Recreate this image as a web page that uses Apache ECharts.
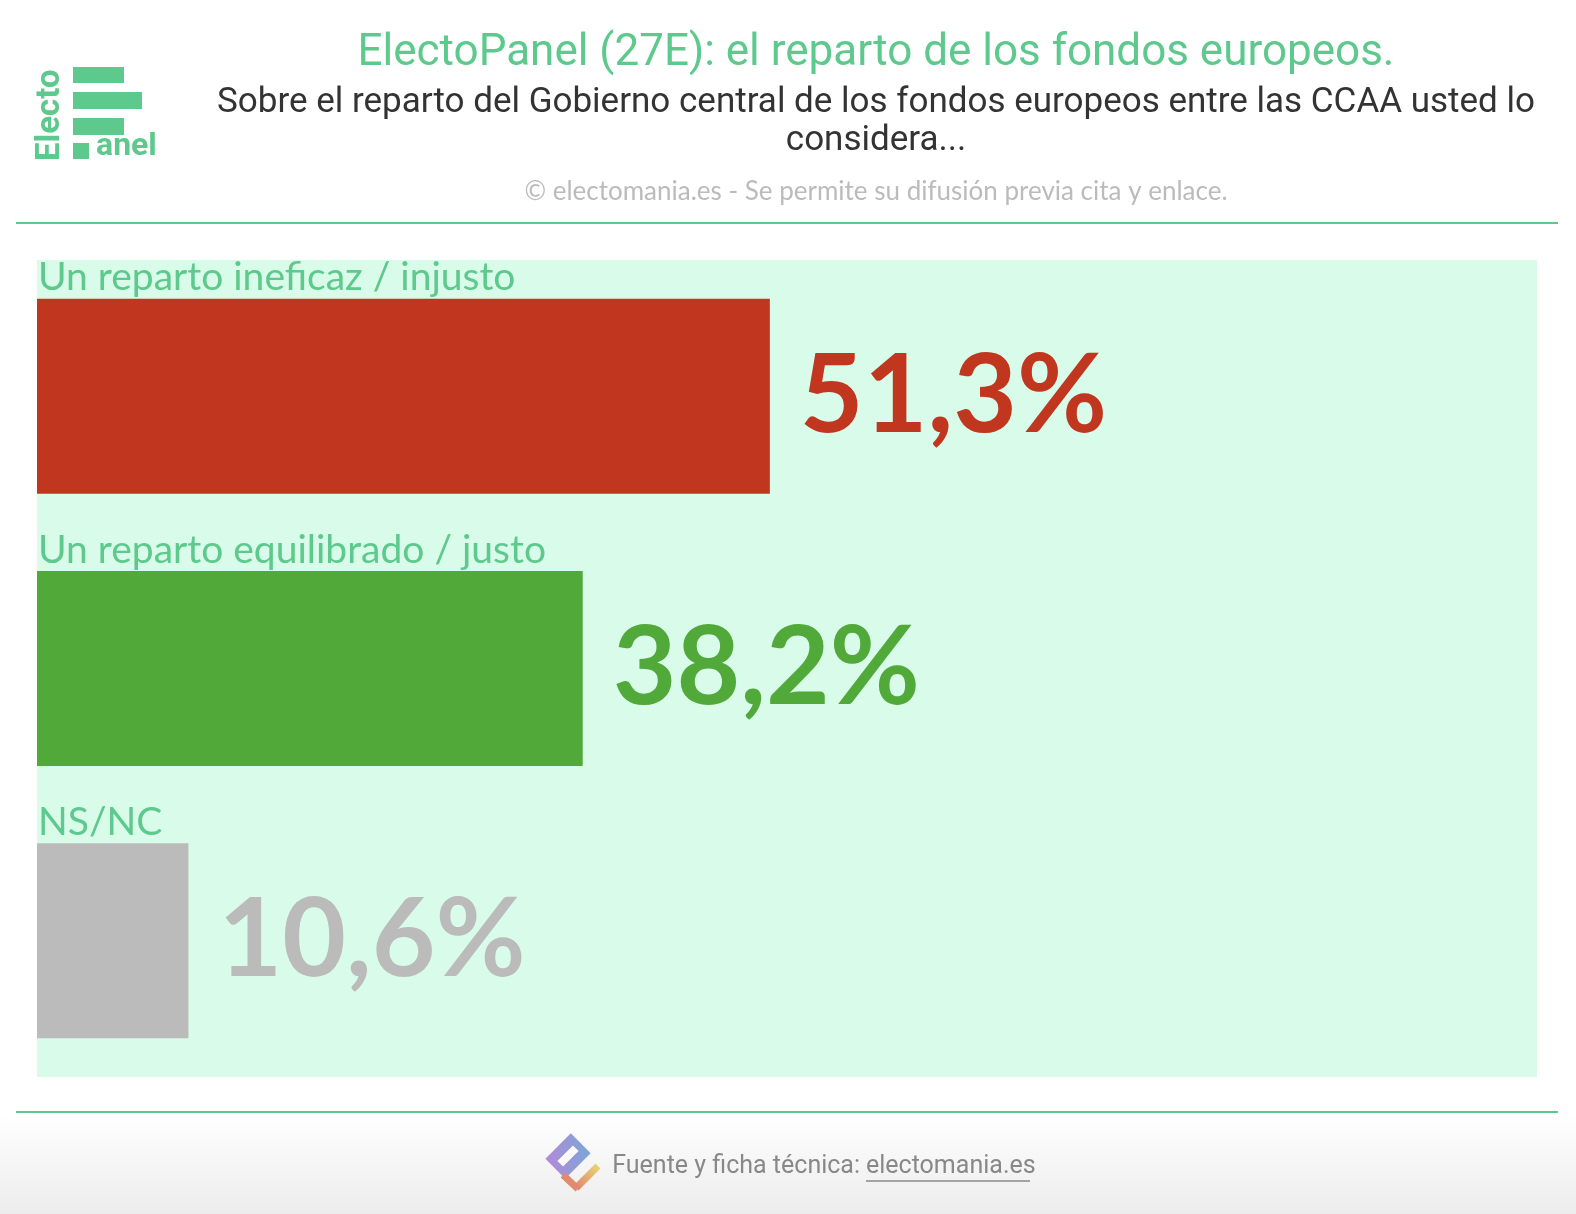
<!DOCTYPE html>
<html>
<head>
<meta charset="utf-8">
<script src="https://cdn.jsdelivr.net/npm/echarts@6/dist/echarts.min.js"></script>
<style>
html, body { margin: 0; padding: 0; background: #fff; }
#chart { width: 1576px; height: 1214px; }
</style>
</head>
<body>
<div id="chart"></div>
<script>
var categories = ['Un reparto ineficaz / injusto', 'Un reparto equilibrado / justo', 'NS/NC'];
var values = [51.3, 38.2, 10.6];
var barColors = ['#c0361f', '#51a93a', '#bbbbbb'];

var titleText = 'ElectoPanel (27E): el reparto de los fondos europeos.';
var subtitleText = 'Sobre el reparto del Gobierno central de los fondos europeos entre las CCAA usted lo\nconsidera...';
var copyText = '© electomania.es - Se permite su difusión previa cita y enlace.';

var green = '#5dc98c';

var myChart = echarts.init(document.getElementById('chart'));

var option = {
	backgroundColor: '#fff',
	animation: false,
	grid: {
		left: 37,
		right: 39,
		top: 260,
		bottom: 137,
		show: true,
		backgroundColor: '#d9fbe9',
		borderWidth: 0
	},
	xAxis: {
		type: 'value',
		min: 0,
		max: 105,
		show: false
	},
	yAxis: {
		type: 'category',
		inverse: true,
		data: categories,
		axisLine: { show: false },
		axisTick: { show: false },
		splitLine: { show: false },
		axisLabel: {
			show: true,
			interval: 0,
			hideOverlap: false,
			inside: true,
			margin: 1,
			color: green,
			fontFamily: 'Lato',
			fontSize: 39,
			verticalAlign: 'bottom',
			padding: [0, 0, 99, 0]
		},
		z: 10
	},
	series: [{
		type: 'bar',
		barWidth: 195,
		data: values.map(function(v, i) {
			return {
				value: v,
				itemStyle: { color: barColors[i] },
				label: { color: barColors[i] }
			}
		}),
		label: {
			show: true,
			position: 'right',
			distance: 30,
			fontFamily: 'Lato',
			fontWeight: 'bold',
			fontSize: 110,
			formatter: function(p) {
				return p.value.toFixed(1).replace('.', ',') + '%'
			}
		}
	}],
	graphic: [
		// logo
		{ type: 'rect', shape: { x: 73, y: 67, width: 51, height: 16 }, style: { fill: green } },
		{ type: 'rect', shape: { x: 73, y: 92, width: 69, height: 17 }, style: { fill: green } },
		{ type: 'rect', shape: { x: 73, y: 118, width: 51, height: 17 }, style: { fill: green } },
		{ type: 'rect', shape: { x: 73, y: 143, width: 16, height: 16 }, style: { fill: green } },
		{ type: 'text', x: 96, y: 163, style: { text: 'anel', fill: green, font: 'bold 32px Roboto', textAlign: 'left', textVerticalAlign: 'bottom' } },
		{ type: 'text', x: 67, y: 161, rotation: Math.PI / 2, style: { text: 'Electo', fill: green, font: 'bold 33px Roboto', textAlign: 'left', textVerticalAlign: 'bottom' } },
		// titles
		{ type: 'text', x: 876, y: 54, style: { text: titleText, fill: green, font: '44px Roboto', textAlign: 'center', textVerticalAlign: 'middle' } },
		{ type: 'text', x: 876, y: 84, style: { text: subtitleText, fill: '#333', font: '35px Roboto', lineHeight: 38, textAlign: 'center', textVerticalAlign: 'top' } },
		{ type: 'text', x: 876, y: 192, style: { text: copyText, fill: '#bbb', font: '26px Lato', textAlign: 'center', textVerticalAlign: 'middle' } },
		// separators
		{ type: 'line', shape: { x1: 16, y1: 223, x2: 1558, y2: 223 }, style: { stroke: green, lineWidth: 2 } },
		{ type: 'rect', shape: { x: 0, y: 1113, width: 1576, height: 101 }, style: { fill: new echarts.graphic.LinearGradient(0, 0, 0, 1, [{ offset: 0, color: '#ffffff' }, { offset: 1, color: '#ececec' }]) } },
		{ type: 'line', shape: { x1: 16, y1: 1112, x2: 1558, y2: 1112 }, style: { stroke: green, lineWidth: 2 } },
		// footer icon
		{ type: 'rect', x: 568, y: 1156, rotation: Math.PI / 4, shape: { x: -18, y: -14, width: 36, height: 28 }, style: { fill: new echarts.graphic.LinearGradient(0, 0, 1, 1, [{ offset: 0, color: '#b48ad8' }, { offset: 1, color: '#7aa6d8' }]) } },
		{ type: 'rect', x: 568, y: 1156, rotation: Math.PI / 4, shape: { x: -11, y: -4, width: 22, height: 8 }, style: { fill: '#fafafa' } },
		{ type: 'line', shape: { x1: 576, y1: 1188, x2: 598, y2: 1166 }, style: { stroke: new echarts.graphic.LinearGradient(0, 1, 1, 0, [{ offset: 0, color: '#e07b6a' }, { offset: 1, color: '#e8df78' }]), lineWidth: 7 } },
		{ type: 'line', shape: { x1: 563, y1: 1175, x2: 578, y2: 1189 }, style: { stroke: '#e08a6e', lineWidth: 7 } },
		{ type: 'text', x: 860, y: 1167, style: { text: 'Fuente y ficha técnica:', fill: '#888', font: '25px Roboto', textAlign: 'right', textVerticalAlign: 'middle' } },
		{ type: 'text', x: 866, y: 1167, style: { text: 'electomania.es', fill: '#888', font: '25px Roboto', textAlign: 'left', textVerticalAlign: 'middle' } },
		{ type: 'line', shape: { x1: 866, y1: 1181, x2: 1030, y2: 1181 }, style: { stroke: '#888', lineWidth: 1.5 } }
	]
};

myChart.setOption(option);
</script>
</body>
</html>
